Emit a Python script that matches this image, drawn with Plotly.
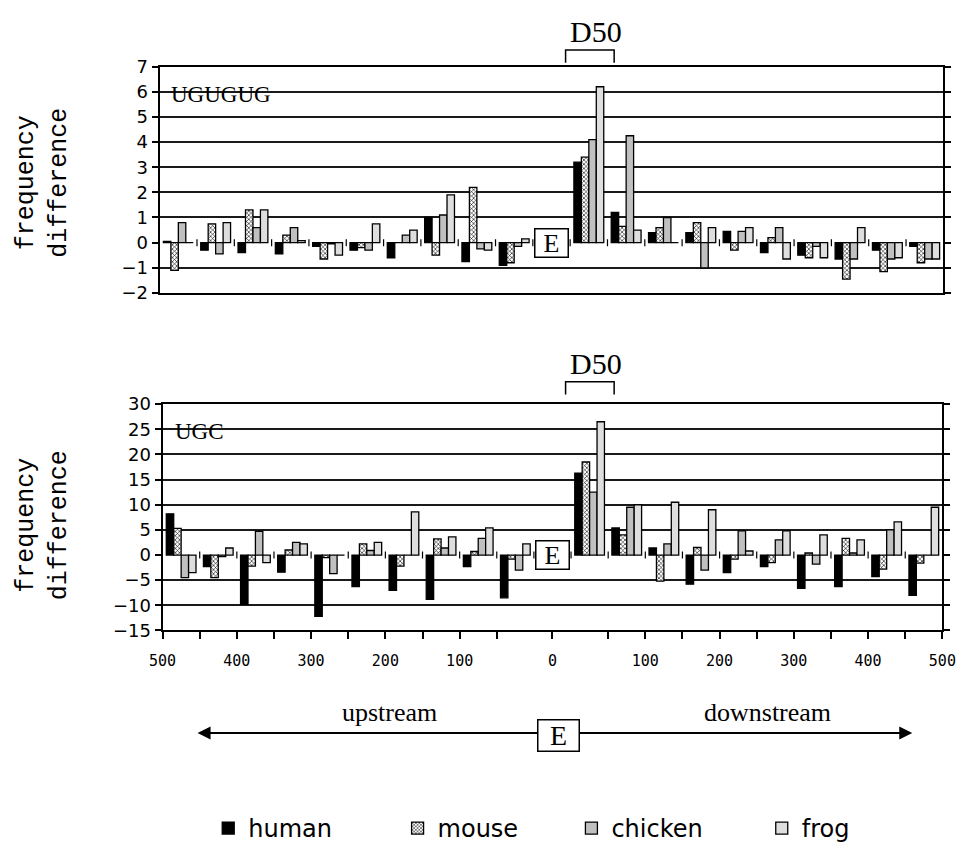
import plotly.graph_objects as go

# ---------------- data ----------------
# 50-nt bins: 10 upstream bins (-500..-50), the exon E, 10 downstream bins (0..450)
bins = ["-500", "-450", "-400", "-350", "-300", "-250", "-200", "-150", "-100", "-50",
        "E",
        "0", "50", "100", "150", "200", "250", "300", "350", "400", "450"]

species = ["human", "mouse", "chicken", "frog"]

# UGUGUG frequency difference
ugugug_human   = [0.05, -0.3, -0.4, -0.45, -0.15, -0.3, -0.6, 1.0, -0.75, -0.9, None,
                  3.2, 1.2, 0.4, 0.4, 0.45, -0.4, -0.5, -0.65, -0.3, -0.15]
ugugug_mouse   = [-1.1, 0.75, 1.3, 0.3, -0.65, -0.2, 0.0, -0.5, 2.2, -0.8, None,
                  3.4, 0.65, 0.6, 0.8, -0.3, 0.2, -0.6, -1.45, -1.15, -0.8]
ugugug_chicken = [0.8, -0.45, 0.6, 0.6, -0.05, -0.3, 0.3, 1.1, -0.25, -0.15, None,
                  4.1, 4.25, 1.0, -1.0, 0.45, 0.6, -0.15, -0.65, -0.65, -0.65]
ugugug_frog    = [0.0, 0.8, 1.3, 0.08, -0.5, 0.75, 0.5, 1.9, -0.3, 0.15, None,
                  6.2, 0.5, 0.0, 0.6, 0.6, -0.65, -0.6, 0.6, -0.6, -0.65]

# UGC frequency difference
ugc_human   = [8.2, -2.3, -9.8, -3.4, -12.2, -6.3, -7.0, -8.8, -2.3, -8.5, None,
               16.3, 5.4, 1.4, -5.8, -3.5, -2.3, -6.6, -6.3, -4.3, -8.0]
ugc_mouse   = [5.3, -4.5, -2.2, 1.0, -0.5, 2.2, -2.2, 3.2, 0.7, -0.8, None,
               18.5, 4.0, -5.2, 1.5, -0.8, -1.5, 0.4, 3.3, -2.8, -1.6]
ugc_chicken = [-4.5, -0.3, 4.7, 2.5, -3.7, 0.9, 0.0, 1.4, 3.3, -3.0, None,
               12.5, 9.5, 2.2, -3.0, 4.8, 3.0, -1.8, 0.4, 5.0, 0.0]
ugc_frog    = [-3.5, 1.4, -1.5, 2.2, 0.0, 2.5, 8.6, 3.6, 5.4, 2.2, None,
               26.5, 10.0, 10.5, 9.0, 0.8, 4.8, 4.0, 3.0, 6.6, 9.5]

# bottom axis labels (distance from exon, nt)
tick_distances = [-500, -400, -300, -200, -100, 0, 100, 200, 300, 400, 500]
tick_labels = ["500", "400", "300", "200", "100", "0", "100", "200", "300", "400", "500"]

top_yticks = [-2, -1, 0, 1, 2, 3, 4, 5, 6, 7]
bot_yticks = [-15, -10, -5, 0, 5, 10, 15, 20, 25, 30]

# ---------------- helpers ----------------
N = len(bins)
xs = list(range(N))
e_idx = bins.index("E")
bin_w = 50
n_up = e_idx


def dist_to_pos(d):
    """map a nucleotide distance to the category axis position"""
    if d < 0:
        return (d + n_up * bin_w) / bin_w - 0.5
    if d == 0:
        return e_idx
    return e_idx + 0.5 + d / bin_w


boundaries = [i - 0.5 for i in range(N + 1)]
bottom_tickvals = sorted([b for b in boundaries if abs(b - e_idx) > 0.6] + [e_idx])
label_pos = {round(dist_to_pos(d), 3): lab for d, lab in zip(tick_distances, tick_labels)}
bottom_ticktext = [label_pos.get(round(v, 3), "") for v in bottom_tickvals]

styles = {
    "human":   dict(color="black"),
    "mouse":   dict(color="#9a9a9a", pattern=dict(shape="x", size=3, solidity=0.35,
                                                   fgcolor="black", bgcolor="white",
                                                   fillmode="replace")),
    "chicken": dict(color="#c0c0c0"),
    "frog":    dict(color="#dedede"),
}
legend_ids = {"human": "legend", "mouse": "legend2", "chicken": "legend3", "frog": "legend4"}

fig = go.Figure()

top_series = [ugugug_human, ugugug_mouse, ugugug_chicken, ugugug_frog]
bot_series = [ugc_human, ugc_mouse, ugc_chicken, ugc_frog]

for sp, vals in zip(species, top_series):
    fig.add_trace(go.Bar(x=xs, y=vals, name=sp, xaxis="x", yaxis="y",
                         marker=dict(line=dict(color="black", width=1.3), **styles[sp]),
                         legend=legend_ids[sp], legendgroup=sp, showlegend=True))
for sp, vals in zip(species, bot_series):
    fig.add_trace(go.Bar(x=xs, y=vals, name=sp, xaxis="x2", yaxis="y2",
                         marker=dict(line=dict(color="black", width=1.3), **styles[sp]),
                         legendgroup=sp, showlegend=False))

# small marks of the category axis crossing at zero
inner_b = boundaries[1:-1]
for xa, ya in (("x", "y"), ("x2", "y2")):
    fig.add_trace(go.Scatter(x=inner_b, y=[0] * len(inner_b), xaxis=xa, yaxis=ya,
                             mode="markers", showlegend=False, hoverinfo="skip",
                             marker=dict(symbol="line-ns", size=5,
                                         line=dict(color="black", width=1.2))))

W, H = 969, 859


def px_x(p):
    return p / W


def px_y(p):
    return 1 - p / H


tickfont = dict(family="DejaVu Sans", size=18, color="black")
common_x = dict(range=[-0.5, N - 0.5], showgrid=False, zeroline=False,
                showline=True, linecolor="black", linewidth=1.5, mirror=True)

legend_font = dict(family="DejaVu Sans", size=24, color="black")
legend_x = {"legend": 200, "legend2": 395, "legend3": 574, "legend4": 770}
legends = {}
for lid, lx in legend_x.items():
    legends[lid] = dict(orientation="h", x=px_x(lx), xanchor="left", y=px_y(838),
                        yanchor="middle", font=legend_font, itemclick=False,
                        itemdoubleclick=False, bgcolor="rgba(0,0,0,0)")

fig.update_layout(
    width=W, height=H,
    margin=dict(l=0, r=0, t=0, b=0),
    paper_bgcolor="white", plot_bgcolor="white",
    barmode="group", bargap=0.2, bargroupgap=0.0,
    xaxis=dict(domain=[px_x(150), px_x(957)], anchor="y",
               showticklabels=False, ticks="", **common_x),
    yaxis=dict(domain=[px_y(289), px_y(57)], anchor="x", range=[-2, 7],
               tickvals=top_yticks, ticks="outside", ticklen=6, tickwidth=1.5,
               tickcolor="black", tickfont=tickfont, showgrid=False, zeroline=False,
               showline=True, linecolor="black", linewidth=2, mirror="ticks",
               minor=dict(tickmode="array", tickvals=[v for v in top_yticks if v != 0],
                          showgrid=True, gridcolor="#1a1a1a", gridwidth=1.6, ticks="")),
    xaxis2=dict(domain=[px_x(153), px_x(956)], anchor="y2",
                tickmode="array", tickvals=bottom_tickvals, ticktext=bottom_ticktext,
                ticks="outside", ticklen=7, tickwidth=1.5, tickcolor="black",
                ticklabelstandoff=9, ticklabeloverflow="allow",
                tickfont=dict(family="DejaVu Sans Mono", size=15, color="black"),
                **common_x),
    yaxis2=dict(domain=[px_y(635), px_y(403)], anchor="x2", range=[-15, 30],
                tickvals=bot_yticks, ticks="outside", ticklen=6, tickwidth=1.5,
                tickcolor="black", tickfont=tickfont, showgrid=False, zeroline=False,
                showline=True, linecolor="black", linewidth=2, mirror="ticks",
                minor=dict(tickmode="array", tickvals=[v for v in bot_yticks if v != 0],
                           showgrid=True, gridcolor="#1a1a1a", gridwidth=1.6, ticks="")),
    font=dict(family="DejaVu Sans", color="black"),
    **legends,
)

serif = "Liberation Serif"
ann = []
# motif labels
ann.append(dict(text="UGUGUG", xref="paper", yref="paper", x=px_x(160), y=px_y(86),
                xanchor="left", yanchor="middle", showarrow=False,
                font=dict(family=serif, size=23, color="black")))
ann.append(dict(text="UGC", xref="paper", yref="paper", x=px_x(164), y=px_y(431),
                xanchor="left", yanchor="middle", showarrow=False,
                font=dict(family=serif, size=23, color="black")))
# D50 labels
for yc in (21, 361):
    ann.append(dict(text="D50", xref="paper", yref="paper", x=px_x(599), y=px_y(yc),
                    xanchor="center", yanchor="middle", showarrow=False,
                    font=dict(family=serif, size=30, color="black")))
# exon boxes
for xa, ya in (("x", "y"), ("x2", "y2")):
    ann.append(dict(text="E", xref=xa, yref=ya, x=e_idx, y=0, showarrow=False,
                    xanchor="center", yanchor="middle",
                    bgcolor="white", bordercolor="black", borderwidth=1.5,
                    width=30, height=25, borderpad=1,
                    font=dict(family=serif, size=26, color="black")))
# y titles
for yc in (176, 527):
    ann.append(dict(text="frequency<br>difference", xref="paper", yref="paper",
                    x=px_x(30), y=px_y(yc), xanchor="center", yanchor="middle",
                    textangle=-90, showarrow=False,
                    font=dict(family="Liberation Mono", size=25, color="black")))
# upstream / downstream arrows
ann.append(dict(text="upstream", xref="paper", yref="paper", x=px_x(387), y=px_y(719),
                xanchor="center", yanchor="middle",
                showarrow=False, font=dict(family=serif, size=26, color="black")))
ann.append(dict(text="downstream", xref="paper", yref="paper", x=px_x(776), y=px_y(719),
                xanchor="center", yanchor="middle",
                showarrow=False, font=dict(family=serif, size=26, color="black")))
ann.append(dict(text="", xref="paper", yref="paper", x=px_x(189), y=px_y(740),
                ax=352, ay=0, showarrow=True, arrowhead=2, arrowsize=1.3,
                arrowwidth=2, arrowcolor="black"))
ann.append(dict(text="", xref="paper", yref="paper", x=px_x(925), y=px_y(740),
                ax=-342, ay=0, showarrow=True, arrowhead=2, arrowsize=1.3,
                arrowwidth=2, arrowcolor="black"))
ann.append(dict(text="E", xref="paper", yref="paper", x=px_x(561), y=px_y(743),
                showarrow=False, xanchor="center", yanchor="middle",
                bgcolor="white", bordercolor="black", borderwidth=1.5,
                width=38, height=28, borderpad=1,
                font=dict(family=serif, size=28, color="black")))
fig.update_layout(annotations=ann)

# D50 brackets
shapes = []
for ytop, ybot in ((40, 53), (380, 393)):
    shapes.append(dict(type="path", xref="paper", yref="paper",
                       path=f"M {px_x(568)},{px_y(ybot)} L {px_x(568)},{px_y(ytop)} "
                            f"L {px_x(618)},{px_y(ytop)} L {px_x(618)},{px_y(ybot)}",
                       line=dict(color="black", width=1.5)))
fig.update_layout(shapes=shapes)

fig.write_html("out.html")
